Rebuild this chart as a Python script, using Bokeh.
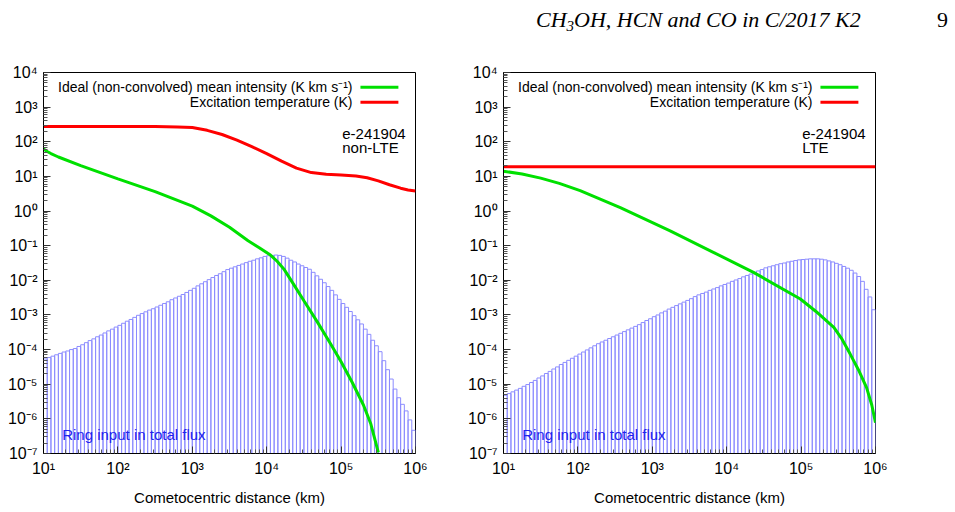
import numpy as np
from bokeh.plotting import figure
from bokeh.models import FixedTicker, CustomJSTickFormatter, Label, Div, ColumnDataSource
from bokeh.layouts import row, column
from bokeh.embed import file_html
from bokeh.resources import INLINE

# ---------------- data (log10 values) ----------------
# 100 rings, 20 per decade, from 10 km to 1e6 km
bin_edges_log = np.linspace(1.0, 6.0, 101)

hist_left_log = [
    -4.27, -4.23, -4.19, -4.15, -4.11, -4.07, -4.04, -4.00, -3.97, -3.91,
    -3.86, -3.80, -3.74, -3.69, -3.63, -3.58, -3.52, -3.46, -3.41, -3.35,
    -3.30, -3.24, -3.18, -3.13, -3.07, -3.01, -2.96, -2.91, -2.86, -2.82,
    -2.77, -2.72, -2.67, -2.62, -2.56, -2.51, -2.46, -2.41, -2.35, -2.29,
    -2.23, -2.16, -2.10, -2.04, -1.98, -1.92, -1.86, -1.81, -1.75, -1.69,
    -1.65, -1.61, -1.57, -1.53, -1.49, -1.45, -1.42, -1.38, -1.35, -1.31,
    -1.29, -1.28, -1.27, -1.28, -1.31, -1.36, -1.42, -1.47, -1.53, -1.58,
    -1.63, -1.68, -1.77, -1.87, -1.97, -2.07, -2.18, -2.29, -2.42, -2.55,
    -2.67, -2.78, -2.90, -3.02, -3.14, -3.26, -3.41, -3.56, -3.73, -3.89,
    -4.06, -4.32, -4.58, -4.85, -5.14, -5.39, -5.58, -5.77, -6.03, -6.33]

hist_right_log = [
    -5.32, -5.27, -5.22, -5.17, -5.12, -5.06, -5.01, -4.95, -4.89, -4.82,
    -4.76, -4.69, -4.63, -4.56, -4.50, -4.43, -4.37, -4.31, -4.25, -4.19,
    -4.13, -4.07, -4.01, -3.95, -3.89, -3.83, -3.78, -3.73, -3.68, -3.63,
    -3.58, -3.53, -3.48, -3.43, -3.38, -3.33, -3.28, -3.22, -3.16, -3.11,
    -3.05, -3.00, -2.94, -2.89, -2.83, -2.78, -2.73, -2.68, -2.63, -2.58,
    -2.53, -2.47, -2.42, -2.38, -2.34, -2.29, -2.25, -2.21, -2.16, -2.12,
    -2.08, -2.03, -1.99, -1.95, -1.90, -1.86, -1.82, -1.77, -1.73, -1.69,
    -1.64, -1.61, -1.58, -1.55, -1.52, -1.50, -1.47, -1.45, -1.43, -1.41,
    -1.40, -1.39, -1.38, -1.38, -1.38, -1.39, -1.41, -1.44, -1.47, -1.51,
    -1.55, -1.60, -1.65, -1.71, -1.79, -1.89, -2.03, -2.26, -2.48, -2.85]

green_left_lx = [1.0, 1.05, 1.1, 1.2, 1.5, 2.0, 2.5, 3.0, 3.25, 3.5, 3.75, 3.9, 4.05,
                 4.14, 4.23, 4.36, 4.5, 4.68, 4.86, 5.0, 5.15, 5.3, 5.4, 5.5]
green_left_lv = [1.79, 1.72, 1.66, 1.56, 1.31, 0.93, 0.56, 0.14, -0.14, -0.47, -0.86, -1.06, -1.27,
                 -1.45, -1.67, -2.11, -2.59, -3.20, -3.84, -4.35, -4.95, -5.60, -6.15, -6.97]

red_left_lx = [1.0, 2.5, 2.8, 3.0, 3.2, 3.4, 3.6, 3.8, 4.0, 4.2, 4.4, 4.6, 4.8,
               5.0, 5.2, 5.35, 5.5, 5.65, 5.8, 5.9, 6.0]
red_left_lv = [2.44, 2.44, 2.43, 2.41, 2.33, 2.21, 2.05, 1.86, 1.66, 1.44, 1.24, 1.11, 1.06,
               1.04, 1.01, 0.96, 0.87, 0.76, 0.66, 0.61, 0.58]

green_right_lx = [1.0, 1.25, 1.5, 1.75, 2.03, 2.57, 3.24, 3.8, 4.36, 4.99, 5.2, 5.44,
                  5.55, 5.66, 5.77, 5.88, 5.95, 6.0]
green_right_lv = [1.15, 1.07, 0.95, 0.80, 0.59, 0.10, -0.57, -1.17, -1.77, -2.54, -2.90, -3.36,
                  -3.70, -4.13, -4.58, -5.10, -5.60, -6.11]

red_right_lx = [1.0, 6.0]
red_right_lv = [1.28, 1.28]

x_major = [10.0 ** e for e in range(1, 7)]
x_minor = [m * 10.0 ** e for e in range(1, 6) for m in range(2, 10)]
y_major = [10.0 ** e for e in range(-7, 5)]
y_minor = [m * 10.0 ** e for e in range(-7, 4) for m in range(2, 10)]

legend_texts = ["Ideal (non-convolved) mean intensity (K km s\u207b\u00b9)",
                "Excitation temperature (K)"]
ring_text = "Ring input in total flux"
model_name = "e-241904"
x_label = "Cometocentric distance (km)"

FONT = "Liberation Sans"
GREEN = "#00e000"
RED = "#ff0000"
BAR = "#8c8cff"

fmt_code = """
const e = Math.round(Math.log10(tick));
const m = {'-':'\u207b','0':'\u2070','1':'\u00b9','2':'\u00b2','3':'\u00b3','4':'\u2074','5':'\u2075','6':'\u2076','7':'\u2077','8':'\u2078','9':'\u2079'};
return '10' + String(e).split('').map(c => m[c]).join('');
"""


def make_panel(hist_log, g_lx, g_lv, r_lx, r_lv, mode, width, border_right):
    p = figure(width=width, height=472, x_axis_type="log", y_axis_type="log",
               x_range=(10, 1e6), y_range=(1e-7, 1e4), title=None,
               output_backend="svg", toolbar_location=None,
               min_border_left=43, min_border_right=border_right,
               min_border_top=32, min_border_bottom=59)
    p.xgrid.visible = False
    p.ygrid.visible = False
    p.outline_line_color = "black"
    p.outline_line_alpha = 1.0
    p.background_fill_color = "white"

    edges = 10.0 ** bin_edges_log
    src = ColumnDataSource(dict(left=edges[:-1], right=edges[1:],
                                top=10.0 ** np.array(hist_log),
                                bottom=np.full(len(hist_log), 1e-9)))
    p.quad(left="left", right="right", top="top", bottom="bottom", source=src,
           fill_color=None, line_color=BAR, line_width=1)

    p.line(10.0 ** np.array(g_lx), 10.0 ** np.array(g_lv), line_color=GREEN, line_width=3)
    p.line(10.0 ** np.array(r_lx), 10.0 ** np.array(r_lv), line_color=RED, line_width=3)

    # legend (gnuplot style: text then sample)
    for txt, yl, col in zip(legend_texts, [3.575, 3.14], [GREEN, RED]):
        p.add_layout(Label(x=10 ** 5.153, y=10 ** yl, text=txt, text_align="right",
                           text_baseline="middle", text_font=FONT, text_font_size="14px",
                           text_color="black"))
        p.line([10 ** 5.26, 10 ** 5.77], [10 ** yl, 10 ** yl], line_color=col, line_width=3)

    for txt, yl in zip([model_name, mode], [2.237, 1.84]):
        p.add_layout(Label(x=10 ** 5.015, y=10 ** yl, text=txt, text_align="left",
                           text_baseline="middle", text_font=FONT, text_font_size="15px",
                           text_color="black"))

    p.add_layout(Label(x=10 ** 1.251, y=10 ** -6.46, text=ring_text, text_align="left",
                       text_baseline="middle", text_font=FONT, text_font_size="15px",
                       text_color="#2222ee"))

    fmt = CustomJSTickFormatter(code=fmt_code)
    p.xaxis.ticker = FixedTicker(ticks=x_major, minor_ticks=x_minor)
    p.yaxis.ticker = FixedTicker(ticks=y_major, minor_ticks=y_minor)
    for ax in (p.xaxis, p.yaxis):
        ax.formatter = fmt
        ax.major_tick_in = 7
        ax.major_tick_out = 0
        ax.minor_tick_in = 4
        ax.minor_tick_out = 0
        ax.major_tick_line_color = "#333333"
        ax.minor_tick_line_color = "#555555"
        ax.axis_line_color = "black"
        ax.major_label_text_font = FONT
        ax.major_label_text_font_size = "16px"
        ax.major_label_text_color = "black"
    p.xaxis.major_label_standoff = 6
    p.yaxis.major_label_standoff = 6
    p.xaxis.axis_label = x_label
    p.xaxis.axis_label_text_font = FONT
    p.xaxis.axis_label_text_font_size = "15px"
    p.xaxis.axis_label_text_font_style = "normal"
    p.xaxis.axis_label_text_color = "black"
    p.xaxis.axis_label_standoff = 9
    return p


p1 = make_panel(hist_left_log, green_left_lx, green_left_lv, red_left_lx, red_left_lv,
                "non-LTE", 460, 45)
p2 = make_panel(hist_right_log, green_right_lx, green_right_lv, red_right_lx, red_right_lv,
                "LTE", 495, 80)

header = Div(text=(
    '<div style="position:relative;width:955px;height:40px;">'
    '<span style="position:absolute;left:536px;top:8px;font-family:\'Liberation Serif\',serif;'
    'font-style:italic;font-size:22px;white-space:nowrap;color:#000;line-height:24px;">'
    'CH<span style="font-size:15px;position:relative;top:4px;">3</span>OH, HCN and CO in C/2017 K2</span>'
    '<span style="position:absolute;left:937px;top:8px;font-family:\'Liberation Serif\',serif;'
    'font-size:22px;color:#000;line-height:24px;">9</span></div>'),
    width=955, height=40, margin=0)

layout = column(header, row(p1, p2))
open("out.html", "w", encoding="utf-8").write(file_html(layout, INLINE))
